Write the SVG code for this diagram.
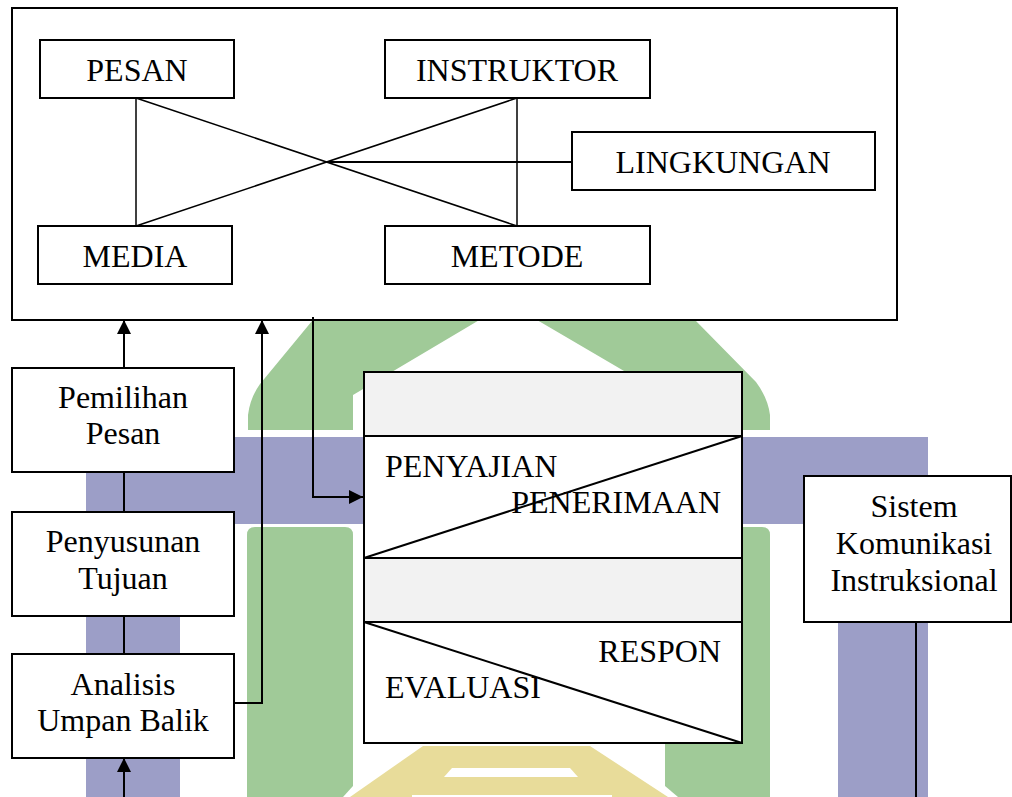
<svg xmlns="http://www.w3.org/2000/svg" width="1012" height="797" viewBox="0 0 1012 797">
<style>
.box{fill:#fff;stroke:#000;stroke-width:2}
.gray{fill:#f2f2f2;stroke:none}
text{font-family:'Liberation Serif','DejaVu Serif',serif;font-size:32px;fill:#000}
.c{text-anchor:middle}
.e{text-anchor:end}
.ln{fill:none;stroke:#000;stroke-width:2}
.thin{fill:none;stroke:#000;stroke-width:1.5}
.g{fill:#a0ca98}
.p{fill:#9c9ec7}
.y{fill:#e8dc9a}
</style>
<defs>
<marker id="ah" viewBox="0 0 10 10" refX="10" refY="5" markerWidth="15" markerHeight="14" markerUnits="userSpaceOnUse" orient="auto">
<path d="M0,0 L10,5 L0,10 z" fill="#000"/>
</marker>
</defs>
<g id="watermark">
<path class="g" d="M248,430 L248,415 Q250,398 260,384 L312,321 L505,120 L696,321 L756,382 Q768,398 770,415 L770,430 L665,430 L665,395 L508,303 L353,395 L353,430 Z"/>
<rect class="p" x="86" y="437" width="842" height="87"/>
<rect class="p" x="86" y="437" width="94" height="360"/>
<rect class="p" x="838" y="437" width="90" height="360"/>
<path class="g" d="M247,535 Q247,527 255,527 L345,527 Q353,527 353,535 L353,786 L343,797 L247,797 Z"/>
<path class="g" d="M665,535 Q665,527 673,527 L762,527 Q770,527 770,535 L770,797 L678,797 L665,786 Z"/>
<path class="y" d="M423,746 L590,746 L668,797 L350,797 Z"/>
<path fill="#fff" d="M452,768 L570,768 L578,777 L444,777 Z"/>
<rect fill="#fff" x="412" y="795" width="200" height="2"/>
</g>
<g id="container">
<rect class="box" x="12" y="8" width="885" height="312"/>
</g>
<g id="connectors">
<line class="thin" x1="136" y1="98" x2="136" y2="226"/>
<line class="thin" x1="517" y1="98" x2="517" y2="226"/>
<line class="thin" x1="136" y1="98" x2="517" y2="226"/>
<line class="thin" x1="517" y1="98" x2="136" y2="226"/>
<line class="ln" x1="327" y1="162" x2="572" y2="162"/>
<line class="ln" x1="124" y1="368" x2="124" y2="320" marker-end="url(#ah)"/>
<line class="ln" x1="124" y1="472" x2="124" y2="512"/>
<line class="ln" x1="124" y1="616" x2="124" y2="654"/>
<line class="ln" x1="124" y1="797" x2="124" y2="758" marker-end="url(#ah)"/>
<polyline class="ln" points="234,703 262,703 262,320" marker-end="url(#ah)"/>
<polyline class="ln" points="313,317 313,497 363,497" marker-end="url(#ah)"/>
<line class="ln" x1="916" y1="622" x2="916" y2="797"/>
</g>
<g id="pesan">
<rect class="box" x="40" y="40" width="194" height="58"/>
<text class="c" x="137" y="81">PESAN</text>
</g>
<g id="instruktor">
<rect class="box" x="385" y="40" width="265" height="58"/>
<text class="c" x="517" y="81">INSTRUKTOR</text>
</g>
<g id="lingkungan">
<rect class="box" x="572" y="132" width="303" height="58"/>
<text class="c" x="723" y="173">LINGKUNGAN</text>
</g>
<g id="media">
<rect class="box" x="38" y="226" width="194" height="58"/>
<text class="c" x="135" y="267">MEDIA</text>
</g>
<g id="metode">
<rect class="box" x="385" y="226" width="265" height="58"/>
<text class="c" x="517" y="267">METODE</text>
</g>
<g id="pemilihan">
<rect class="box" x="12" y="368" width="222" height="104"/>
<text class="c" x="123" y="408">Pemilihan</text>
<text class="c" x="123" y="444">Pesan</text>
</g>
<g id="penyusunan">
<rect class="box" x="12" y="512" width="222" height="104"/>
<text class="c" x="123" y="552">Penyusunan</text>
<text class="c" x="123" y="589">Tujuan</text>
</g>
<g id="analisis">
<rect class="box" x="12" y="654" width="222" height="104"/>
<text class="c" x="123" y="695">Analisis</text>
<text class="c" x="123" y="731">Umpan Balik</text>
</g>
<g id="proses">
<rect class="box" x="364" y="372" width="378" height="371"/>
<rect class="gray" x="365" y="373" width="376" height="63"/>
<rect class="gray" x="365" y="558" width="376" height="64"/>
<line class="ln" x1="364" y1="436" x2="742" y2="436"/>
<line class="ln" x1="364" y1="558" x2="742" y2="558"/>
<line class="ln" x1="364" y1="622" x2="742" y2="622"/>
<line class="ln" x1="364" y1="558" x2="742" y2="436"/>
<line class="ln" x1="364" y1="622" x2="742" y2="743"/>
<text x="385" y="477">PENYAJIAN</text>
<text class="e" x="721" y="513">PENERIMAAN</text>
<text class="e" x="721" y="662">RESPON</text>
<text x="385" y="698">EVALUASI</text>
</g>
<g id="sistem">
<rect class="box" x="804" y="476" width="207" height="146"/>
<text class="c" x="914" y="517">Sistem</text>
<text class="c" x="914" y="554">Komunikasi</text>
<text class="c" x="914" y="591">Instruksional</text>
</g>
</svg>
